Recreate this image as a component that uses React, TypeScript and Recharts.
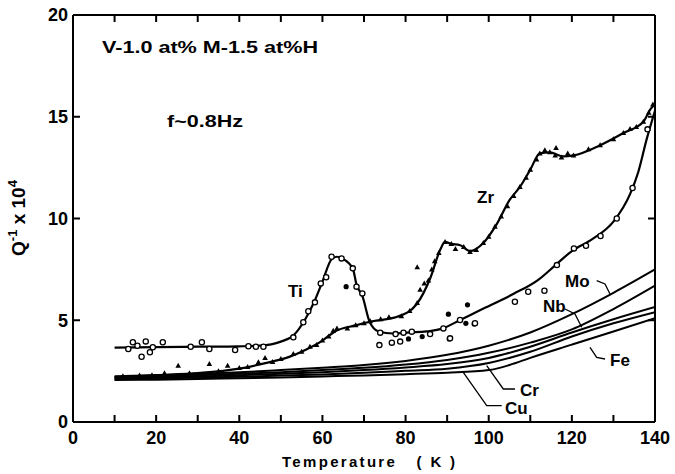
import { ComposedChart, Line, Scatter, XAxis, YAxis } from 'recharts';

type Pt = { t: number; q: number };
const pts = (rows: number[][]): Pt[] => rows.map(([t, q]) => ({ t, q }));

const xTicks = [0, 10, 20, 30, 40, 50, 60, 70, 80, 90, 100, 110, 120, 130, 140];
const yTicks = [0, 5, 10, 15, 20];

// smooth curves drawn through the data
const tiCurve = pts([
  [10, 3.65], [20, 3.68], [30, 3.7], [40, 3.72], [45, 3.75], [50, 3.95], [53, 4.25],
  [56, 5.1], [58, 5.9], [60, 6.9], [62.2, 8.0], [63.5, 8.12], [64.6, 8.05], [67.3, 7.55],
  [68.2, 6.75], [69.6, 6.2], [71.4, 4.9], [73.5, 4.45], [77, 4.35], [81, 4.4], [85, 4.45],
  [89, 4.6], [93, 5.0], [98, 5.5], [106, 6.3], [112, 7.0], [116, 7.7], [120, 8.4],
  [125, 9.0], [130, 9.85], [134, 11.2], [136, 12.3], [138, 13.9], [140, 15.3],
]);
const zrCurve = pts([
  [10, 2.2], [20, 2.3], [30, 2.4], [40, 2.62], [46, 2.88], [52, 3.2], [56, 3.55],
  [60, 4.0], [63, 4.45], [68, 4.75], [72, 4.95], [78, 5.17], [82.7, 5.8], [86, 7.1],
  [88.3, 8.45], [89.5, 8.85], [91, 8.75], [93, 8.7], [95.5, 8.4], [98.7, 8.8],
  [102, 9.75], [105, 10.9], [107.5, 11.55], [110, 12.4], [112.3, 13.2], [114.7, 13.25],
  [118, 13.05], [120.4, 13.1], [126.8, 13.6], [132.4, 14.2], [137.2, 14.75], [139, 15.4],
  [140, 15.6],
]);
const moCurve = pts([
  [10, 2.25], [20, 2.3], [30, 2.36], [40, 2.44], [50, 2.55], [60, 2.67], [70, 2.8],
  [80, 3.0], [90, 3.3], [100, 3.75], [110, 4.4], [120, 5.3], [130, 6.35], [140, 7.5],
]);
const nbCurve = pts([
  [10, 2.2], [20, 2.25], [30, 2.3], [40, 2.37], [50, 2.45], [60, 2.55], [70, 2.66],
  [80, 2.82], [90, 3.05], [100, 3.4], [110, 3.9], [120, 4.55], [130, 5.55], [140, 6.7],
]);
const crCurve = pts([
  [10, 2.15], [20, 2.2], [30, 2.24], [40, 2.3], [50, 2.37], [60, 2.45], [70, 2.55],
  [80, 2.68], [90, 2.85], [100, 3.15], [110, 3.7], [120, 4.4], [130, 5.05], [140, 5.65],
]);
const cuCurve = pts([
  [10, 2.1], [20, 2.14], [30, 2.18], [40, 2.22], [50, 2.28], [60, 2.34], [70, 2.42],
  [80, 2.52], [90, 2.62], [100, 2.9], [110, 3.45], [120, 4.2], [130, 4.85], [140, 5.4],
]);
const feCurve = pts([
  [10, 2.06], [20, 2.08], [30, 2.11], [40, 2.15], [50, 2.19], [60, 2.24], [70, 2.29],
  [80, 2.35], [90, 2.42], [100, 2.55], [105, 2.8], [110, 3.15], [120, 3.8], [130, 4.45],
  [140, 5.1],
]);

// measured points
const tiPoints = pts([
  [13.3, 3.59], [14.4, 3.92], [15.5, 3.75], [16.5, 3.21], [17.5, 3.96], [18.5, 3.43],
  [19.2, 3.67], [21.6, 3.92], [28.3, 3.7], [31, 3.92], [32.8, 3.59], [39, 3.54],
  [42.2, 3.72], [44, 3.7], [45.8, 3.7], [53, 4.16], [55.4, 4.9], [56.6, 5.44],
  [58.2, 5.88], [59.6, 6.81], [60.9, 7.11], [62.2, 8.12], [64.6, 8.04], [67.3, 7.55],
  [68.2, 6.65], [69.6, 6.32], [73.9, 4.39], [73.7, 3.78], [76.7, 3.9], [77.6, 4.32],
  [78.7, 3.95], [79.5, 4.39], [81.5, 4.44], [85.9, 4.32], [89.1, 4.6], [90.7, 4.11],
  [93.1, 5.01], [96.7, 4.85], [106.3, 5.91], [109.5, 6.4], [113.4, 6.45], [116.4, 7.71],
  [120.5, 8.53], [123.4, 8.66], [126.9, 9.14], [130.8, 10.0], [134.6, 11.5], [138.2, 14.38],
]);
const dotPoints = pts([
  [65.7, 6.65], [80.7, 4.08], [84, 4.2], [90.5, 4.08], [90.3, 5.3], [94.9, 5.76],
  [94.5, 4.85], [96.5, 4.82],
]);
const zrPoints = pts([
  [12, 2.25], [16, 2.28], [19, 2.3], [22, 2.4], [25.3, 2.77], [28, 2.4], [32.8, 2.85],
  [35, 2.5], [37.2, 2.77], [40, 2.65], [42, 2.7], [44.6, 2.93], [46.2, 3.14], [48, 2.95],
  [50, 3.1], [53, 3.34], [55, 3.45], [57, 3.7], [58.6, 3.78], [60, 4.0], [61.5, 4.2],
  [62.6, 4.49], [63.5, 4.6], [66, 4.6], [68, 4.75], [70, 4.85], [71.5, 4.95], [74, 5.05],
  [76, 5.15], [79, 5.2], [81, 5.45], [82.8, 5.85], [82.8, 7.6], [83.5, 6.5], [84.5, 6.8],
  [85.5, 6.95], [86.3, 7.5], [87, 7.9], [88, 8.3], [89.5, 8.85], [91, 8.75], [92, 8.5],
  [94, 8.6], [95.5, 8.35], [97, 8.45], [98.7, 8.8], [100, 9.1], [101.5, 9.6], [103, 10.1],
  [104.5, 10.6], [106, 11.1], [107.5, 11.55], [109, 12.0], [110, 12.4], [111.5, 12.9],
  [112.3, 13.2], [113.5, 13.35], [114.7, 13.25], [116, 13.1], [116.2, 13.46], [117.5, 13.0],
  [119, 13.2], [120.4, 13.1], [124, 13.4], [126.8, 13.6], [130, 13.9], [132.4, 14.2],
  [134, 14.4], [135.5, 14.5], [137.2, 14.75], [138.5, 15.2], [139.5, 15.6],
]);

const FONT = '"Liberation Sans", Arial, sans-serif';

const OpenCircle = (p: any) => (
  <circle cx={p.cx} cy={p.cy} r={2.6} fill="#fff" stroke="#000" strokeWidth={1.3} />
);
const FilledDot = (p: any) => <circle cx={p.cx} cy={p.cy} r={2.6} fill="#000" />;
const Tri = (p: any) => (
  <polygon
    points={`${p.cx},${p.cy - 3} ${p.cx - 2.8},${p.cy + 2} ${p.cx + 2.8},${p.cy + 2}`}
    fill="#000"
  />
);

const tickFont = { fill: '#000', fontSize: 18, fontWeight: 700, fontFamily: FONT };
const axisLine = { stroke: '#000', strokeWidth: 2 };
const tickLine = { stroke: '#000', strokeWidth: 2 };

const BottomTick = ({ x, y, payload }: any) =>
  payload.value % 20 === 0 ? (
    <text x={x} y={y} dy="0.71em" textAnchor="middle" {...tickFont}>
      {payload.value}
    </text>
  ) : (
    <g />
  );
const LeftTick = ({ x, y, payload }: any) => (
  <text x={x} y={y} dy="0.355em" textAnchor="end" {...tickFont}>
    {payload.value}
  </text>
);
// tick={false} would drop the tick marks too, so the frame axes get an empty label
const NoLabel = () => <g />;

const lowerCurves = [moCurve, nbCurve, crCurve, cuCurve, feCurve];

const label = { fontFamily: FONT, fontSize: 17, fontWeight: 700, fill: '#000' };

export default function App() {
  return (
    <div style={{ position: 'absolute', left: 0, top: 0, width: 675, height: 474 }}>
      <ComposedChart width={675} height={474} margin={{ top: 10, right: 15, left: 33, bottom: 22 }}>
        {/* negative tickSize turns the tick marks inward */}
        <XAxis
          dataKey="t"
          type="number"
          domain={[0, 140]}
          ticks={xTicks}
          interval={0}
          allowDataOverflow
          height={30}
          tickSize={-7}
          tickMargin={16}
          tick={BottomTick}
          axisLine={axisLine}
          tickLine={tickLine}
        />
        <XAxis
          xAxisId="top"
          orientation="top"
          dataKey="t"
          type="number"
          domain={[0, 140]}
          ticks={xTicks}
          interval={0}
          allowDataOverflow
          height={5}
          tickSize={-7}
          tick={NoLabel}
          axisLine={axisLine}
          tickLine={tickLine}
        />
        <YAxis
          dataKey="q"
          type="number"
          domain={[0, 20]}
          ticks={yTicks}
          interval={0}
          allowDataOverflow
          width={40}
          tickSize={-7}
          tickMargin={12}
          tick={LeftTick}
          axisLine={axisLine}
          tickLine={tickLine}
        />
        <YAxis
          yAxisId="right"
          orientation="right"
          dataKey="q"
          type="number"
          domain={[0, 20]}
          ticks={yTicks}
          interval={0}
          allowDataOverflow
          width={5}
          tickSize={-7}
          tick={NoLabel}
          axisLine={axisLine}
          tickLine={tickLine}
        />
        {lowerCurves.map((c, i) => (
          <Line
            key={i}
            data={c}
            dataKey="q"
            type="monotone"
            stroke="#000"
            strokeWidth={2}
            dot={false}
            isAnimationActive={false}
          />
        ))}
        <Line data={tiCurve} dataKey="q" type="monotone" stroke="#000" strokeWidth={2.2} dot={false} isAnimationActive={false} />
        {/* Zr is bound to the top/right axes (same scales) so those axes draw their ticks */}
        <Line
          data={zrCurve}
          dataKey="q"
          xAxisId="top"
          yAxisId="right"
          type="monotone"
          stroke="#000"
          strokeWidth={2.2}
          dot={false}
          isAnimationActive={false}
        />
        <Scatter data={zrPoints} dataKey="q" xAxisId="top" yAxisId="right" shape={Tri} isAnimationActive={false} />
        <Scatter data={dotPoints} dataKey="q" shape={FilledDot} isAnimationActive={false} />
        <Scatter data={tiPoints} dataKey="q" shape={OpenCircle} isAnimationActive={false} />
      </ComposedChart>
      <svg
        width={675}
        height={474}
        style={{ position: 'absolute', left: 0, top: 0, pointerEvents: 'none' }}
      >
        <text x={102} y={53} {...label} textLength={216} lengthAdjust="spacingAndGlyphs">
          V-1.0 at% M-1.5 at%H
        </text>
        <text x={167} y={127} {...label} textLength={76} lengthAdjust="spacingAndGlyphs">
          f~0.8Hz
        </text>
        <text x={288} y={297} {...label}>Ti</text>
        <text x={477} y={203} {...label}>Zr</text>
        <text x={565} y={287} {...label}>Mo</text>
        <text x={543} y={312} {...label}>Nb</text>
        <text x={610} y={366} {...label}>Fe</text>
        <text x={520} y={396} {...label}>Cr</text>
        <text x={505} y={414} {...label}>Cu</text>
        <g fill="none" stroke="#000" strokeWidth={1.3}>
          <polyline points="596.7,280.7 605,284 610,294" />
          <polyline points="565,309 575,314 581.7,327.3" />
          <polyline points="605,359 596.7,357.3 590,347.3" />
          <polyline points="515,389 503.3,389 486.7,365.7" />
          <polyline points="501.7,405.7 486.7,405.7 463.3,372.3" />
        </g>
        <text x={282} y={467} {...label} fontSize={15} textLength={173} lengthAdjust="spacing">
          Temperature{'\u00a0\u00a0\u00a0'}( K )
        </text>
        <text
          transform="translate(25,218) rotate(-90)"
          textAnchor="middle"
          {...label}
          fontSize={19}
        >
          Q<tspan fontSize={13} dy={-8}>-1</tspan>
          <tspan dy={8}> x 10</tspan>
          <tspan fontSize={13} dy={-8}>4</tspan>
        </text>
      </svg>
    </div>
  );
}
